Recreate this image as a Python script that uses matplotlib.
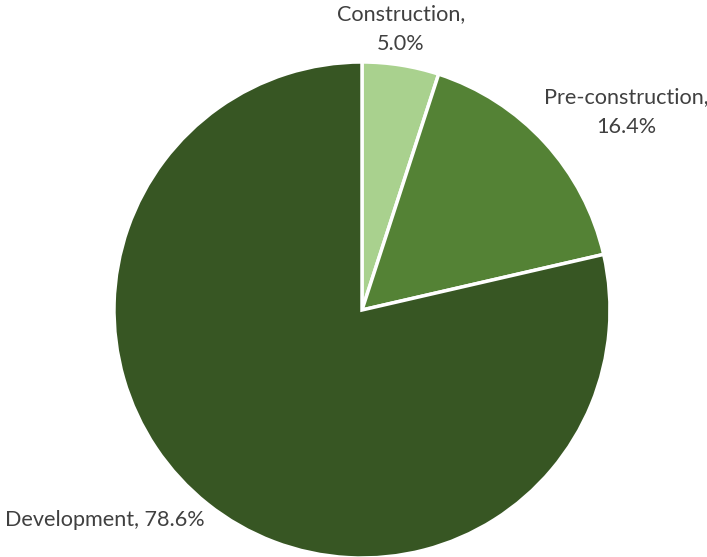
import matplotlib.pyplot as plt

phases = ['Construction', 'Pre-construction', 'Development']
shares = [5.0, 16.4, 78.6]
colors = ['#A9D18E', '#548235', '#375623']

W, H = 707, 557
fig = plt.figure(figsize=(W / 100, H / 100), dpi=100)
ax = fig.add_axes([0, 0, 1, 1])

ax.pie(shares, colors=colors, startangle=90, counterclock=False,
       center=(362, 247), radius=248,
       wedgeprops=dict(edgecolor='white', linewidth=2.5))

# pie() resets the view, so fix the pixel-sized limits afterwards
ax.set_xlim(0, W)
ax.set_ylim(0, H)
ax.set_aspect('equal')
ax.axis('off')

# label positions in pixel coords (y measured from bottom)
label_pos = [(401, 528, '\n'), (626, 445, '\n'), (105, 37, ' ')]
for name, val, (x, y, sep) in zip(phases, shares, label_pos):
    ax.text(x, y, f'{name},{sep}{val:.1f}%', ha='center', va='center',
            fontsize=15.6, color='#404040', family='Lato', linespacing=1.6)

fig.savefig('out.png', dpi=100)
